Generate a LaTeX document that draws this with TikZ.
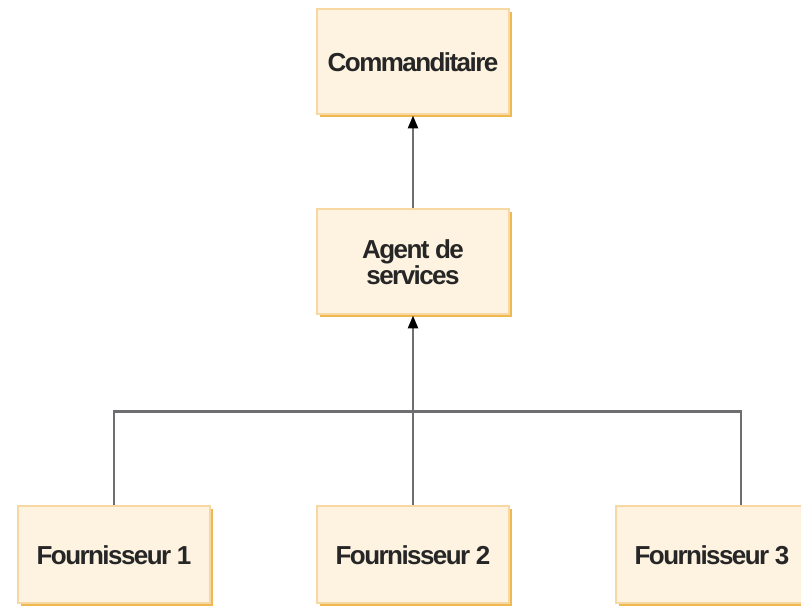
\documentclass[tikz,border=0pt]{standalone}
\usepackage{fontspec}
\setmainfont{Liberation Sans}[LetterSpace=-6]
\usepackage{tikz}
\usetikzlibrary{arrows.meta,shapes,positioning,shadows}
\definecolor{boxfill}{HTML}{FDF3E0}
\definecolor{boxedge}{HTML}{F8D8A2}
\definecolor{boxshade}{HTML}{EFB850}
\definecolor{linkgray}{HTML}{6E6E70}
\tikzset{
  basic/.style = {draw=boxedge, line width=2pt, fill=boxfill, rectangle,
                  font=\fontsize{26}{26}\selectfont\bfseries, align=center,
                  text=black!85,
                  drop shadow={shadow xshift=2.5pt, shadow yshift=-3pt,
                               fill=boxshade, opacity=1}},
  role/.style  = {basic, minimum width=192pt, minimum height=105pt},
  supplier/.style = {basic, minimum width=192pt, minimum height=97pt},
  link/.style  = {draw=linkgray, line width=2.5pt},
  up/.style    = {link, -{Triangle[width=10pt,length=13pt,color=black]}}
}

\begin{document}
\begin{tikzpicture}[x=1pt,y=1pt]
\useasboundingbox (0,0) rectangle (801,607);
\node[role] (comm) at (413,545) {Commanditaire};
\node[role, below=93pt of comm] (agent) {Agent de\\services};
\node[supplier, below=190pt of agent] (f2) {Fournisseur 2};
\node[supplier, left=105pt of f2] (f1) {Fournisseur 1};
\node[supplier, right=105pt of f2] (f3) {Fournisseur 3};
\coordinate[below=96pt of agent] (bar);

\draw[link] (f1.north) |- (bar) -| ([xshift=29pt]f3.north);
\draw[up] (f2.north) -- (agent.south);
\draw[up] (agent.north) -- (comm.south);
\end{tikzpicture}
\end{document}
